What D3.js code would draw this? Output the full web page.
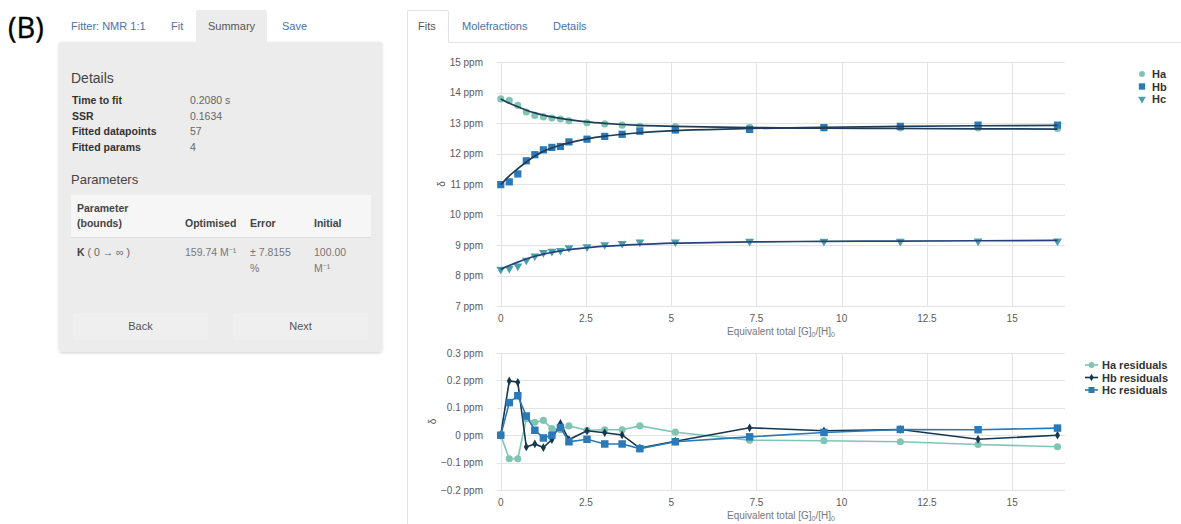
<!DOCTYPE html>
<html>
<head>
<meta charset="utf-8">
<script src="https://cdn.jsdelivr.net/npm/d3@7"></script>
<style>
  html, body { margin: 0; padding: 0; background: #fff; }
  svg { display: block; font-family: "Liberation Sans", Arial, sans-serif; }
</style>
</head>
<body>
<svg id="fig" width="1181" height="524"></svg>
<script>
// Titration points: equivalent total [G]0/[H]0
const eqG = [0, 0.25, 0.5, 0.75, 1.0, 1.25, 1.5, 1.75, 2.0, 2.53, 3.05, 3.56, 4.08, 5.12, 7.3, 9.48, 11.72, 14.0, 16.33];

// Observed shifts (ppm)
const obsHa = [13.79, 13.74, 13.58, 13.36, 13.25, 13.20, 13.16, 13.13, 13.07, 13.01, 12.97, 12.93, 12.89, 12.88, 12.86, 12.84, 12.84, 12.84, 12.82];
const obsHb = [10.98, 11.07, 11.33, 11.76, 11.96, 12.12, 12.20, 12.23, 12.38, 12.47, 12.56, 12.63, 12.73, 12.77, 12.79, 12.85, 12.89, 12.93, 12.93];
const obsHc = [8.20, 8.23, 8.31, 8.50, 8.64, 8.75, 8.79, 8.82, 8.91, 8.94, 9.01, 9.05, 9.10, 9.10, 9.12, 9.12, 9.12, 9.13, 9.13];

// Fitted curves (ppm)
const fitHa = [13.79, 13.65, 13.53, 13.42, 13.33, 13.26, 13.20, 13.15, 13.11, 13.04, 12.99, 12.95, 12.92, 12.89, 12.85, 12.83, 12.82, 12.81, 12.80];
const fitHb = [10.98, 11.27, 11.50, 11.72, 11.92, 12.07, 12.18, 12.27, 12.35, 12.48, 12.57, 12.63, 12.68, 12.75, 12.82, 12.86, 12.89, 12.91, 12.92];
const fitHc = [8.20, 8.33, 8.44, 8.54, 8.63, 8.70, 8.76, 8.81, 8.85, 8.91, 8.96, 8.99, 9.02, 9.06, 9.10, 9.12, 9.13, 9.14, 9.15];

// Residuals (ppm)
const resHa = [0, -0.086, -0.086, 0.06, 0.047, 0.054, 0.024, 0.02, 0.034, 0.018, 0.02, 0.02, 0.034, 0.011, -0.018, -0.02, -0.024, -0.034, -0.042];
const resHb = [0, 0.198, 0.193, -0.043, -0.032, -0.045, -0.016, 0.043, -0.016, 0.016, 0.009, 0.001, -0.047, -0.022, 0.027, 0.016, 0.021, -0.015, 0];
const resHc = [0, 0.119, 0.144, 0.07, 0.018, -0.01, 0, 0.028, -0.024, -0.015, -0.032, -0.032, -0.049, -0.024, -0.006, 0.01, 0.021, 0.02, 0.026];

// Axis ticks
const xTicks = [0, 2.5, 5, 7.5, 10, 12.5, 15];
const xTickLabels = ["0", "2.5", "5", "7.5", "10", "12.5", "15"];
const yTicksFit = [7, 8, 9, 10, 11, 12, 13, 14, 15];
const yTicksRes = [-0.2, -0.1, 0, 0.1, 0.2, 0.3];

// Summary panel text
const detailRows = [["Time to fit", "0.2080 s"], ["SSR", "0.1634"], ["Fitted datapoints", "57"], ["Fitted params", "4"]];
const leftTabs = ["Fitter: NMR 1:1", "Fit", "Summary", "Save"];
const rightTabs = ["Fits", "Molefractions", "Details"];

const svg = d3.select("#fig");
const C = {
  ha: "#80c5b4", hb: "#2b79b6", hc: "#4a9faa",
  fitDark: "#1f3d58", fitNavy: "#26417c",
  resHb: "#173750",
  grid: "#e3e3e3", tick: "#5a5a5a", link: "#4a72a8"
};

const defs = svg.append("defs");
const sh = defs.append("filter").attr("id", "panelShadow").attr("x", "-5%").attr("y", "-5%").attr("width", "110%").attr("height", "115%");
sh.append("feDropShadow").attr("dx", 0).attr("dy", 1).attr("stdDeviation", 1.5).attr("flood-color", "#000").attr("flood-opacity", 0.18);

// ---------- Left: figure letter and summary panel ----------
svg.append("text").attr("x", 8).attr("y", 38).attr("font-family", "'Open Sans', 'DejaVu Sans', sans-serif")
  .attr("font-size", 29).attr("fill", "#000").attr("stroke", "#000").attr("stroke-width", 0.4).text("(B)");

svg.append("rect").attr("x", 59).attr("y", 42).attr("width", 323).attr("height", 310).attr("rx", 3)
  .attr("fill", "#ececec").attr("filter", "url(#panelShadow)");
svg.append("rect").attr("x", 59).attr("y", 42).attr("width", 323).attr("height", 6).attr("fill", "#ececec");
// active tab
svg.append("rect").attr("x", 196).attr("y", 10).attr("width", 71).attr("height", 34).attr("rx", 2).attr("fill", "#ececec");

const ltX = [71, 171, 208, 282];
leftTabs.forEach((t, i) => {
  svg.append("text").attr("x", ltX[i]).attr("y", 30).attr("font-size", 11)
    .attr("fill", i === 2 ? "#555" : C.link).text(t);
});

svg.append("text").attr("x", 71).attr("y", 83).attr("font-size", 14).attr("fill", "#444").text("Details");
detailRows.forEach((r, i) => {
  const y = 104 + i * 15.5;
  svg.append("text").attr("x", 72).attr("y", y).attr("font-size", 10.5).attr("font-weight", "bold").attr("fill", "#333").text(r[0]);
  svg.append("text").attr("x", 190).attr("y", y).attr("font-size", 10.5).attr("fill", "#666").text(r[1]);
});

svg.append("text").attr("x", 71).attr("y", 184).attr("font-size", 13).attr("fill", "#444").text("Parameters");
svg.append("rect").attr("x", 71).attr("y", 195).attr("width", 300).attr("height", 42).attr("fill", "#f6f6f6");
svg.append("line").attr("x1", 71).attr("x2", 371).attr("y1", 237.5).attr("y2", 237.5).attr("stroke", "#dedede");

const hdr = svg.append("g").attr("font-size", 10.5).attr("font-weight", "bold").attr("fill", "#444");
hdr.append("text").attr("x", 77).attr("y", 212).text("Parameter");
hdr.append("text").attr("x", 77).attr("y", 227).text("(bounds)");
hdr.append("text").attr("x", 185).attr("y", 227).text("Optimised");
hdr.append("text").attr("x", 250).attr("y", 227).text("Error");
hdr.append("text").attr("x", 314).attr("y", 227).text("Initial");

const kRow = svg.append("text").attr("x", 77).attr("y", 256).attr("font-size", 10.5).attr("fill", "#666");
kRow.append("tspan").attr("font-weight", "bold").attr("fill", "#444").text("K");
kRow.append("tspan").text(" ( 0 \u2192 \u221e )");
svg.append("text").attr("x", 185).attr("y", 256).attr("font-size", 10.5).attr("fill", "#777").text("159.74 M\u207b\u00b9");
svg.append("text").attr("x", 250).attr("y", 256).attr("font-size", 10.5).attr("fill", "#777").text("\u00b1 7.8155");
svg.append("text").attr("x", 250).attr("y", 272).attr("font-size", 10.5).attr("fill", "#777").text("%");
svg.append("text").attr("x", 314).attr("y", 256).attr("font-size", 10.5).attr("fill", "#777").text("100.00");
svg.append("text").attr("x", 314).attr("y", 272).attr("font-size", 10.5).attr("fill", "#777").text("M\u207b\u00b9");

[[73, 135, "Back"], [233, 135, "Next"]].forEach(b => {
  svg.append("rect").attr("x", b[0]).attr("y", 313).attr("width", b[1]).attr("height", 27).attr("fill", "#efefef");
  svg.append("text").attr("x", b[0] + b[1] / 2).attr("y", 330).attr("text-anchor", "middle")
    .attr("font-size", 11).attr("fill", "#555").text(b[2]);
});

// ---------- Right: tabs ----------
svg.append("path").attr("d", "M407.5,524 V12 Q407.5,10.5 409.5,10.5 H446 Q448.5,10.5 448.5,12 V42.5 H1181")
  .attr("fill", "none").attr("stroke", "#e2e2e2");
const rtX = [418, 462, 553];
rightTabs.forEach((t, i) => {
  svg.append("text").attr("x", rtX[i]).attr("y", 30).attr("font-size", 11)
    .attr("fill", i === 0 ? "#555" : C.link).text(t);
});

// ---------- Shared scales ----------
const x = d3.scaleLinear().domain([-0.11, 16.55]).range([497, 1065]);
const yFit = d3.scaleLinear().domain([7, 15]).range([306, 62]);
const yRes = d3.scaleLinear().domain([-0.2, 0.3]).range([490, 353]);

function frame(yScale, ticks, fmt, top, bottom, deltaX) {
  const g = svg.append("g");
  g.selectAll(".hg").data(ticks).join("line")
    .attr("x1", 497).attr("x2", 1065)
    .attr("y1", d => Math.round(yScale(d)) + 0.5).attr("y2", d => Math.round(yScale(d)) + 0.5)
    .attr("stroke", C.grid);
  g.selectAll(".vg").data(xTicks).join("line")
    .attr("x1", d => Math.round(x(d)) + 0.5).attr("x2", d => Math.round(x(d)) + 0.5)
    .attr("y1", top).attr("y2", bottom).attr("stroke", C.grid);
  g.selectAll(".yl").data(ticks).join("text")
    .attr("x", 483).attr("y", d => yScale(d) + 3.5).attr("text-anchor", "end")
    .attr("font-size", 10).attr("fill", C.tick).text(fmt);
  g.selectAll(".xl").data(xTicks).join("text")
    .attr("x", d => x(d)).attr("y", bottom + 16).attr("text-anchor", "middle")
    .attr("font-size", 10).attr("fill", C.tick).text((d, i) => xTickLabels[i]);
  const title = g.append("text").attr("x", 781).attr("y", bottom + 29).attr("text-anchor", "middle")
    .attr("font-size", 10).attr("fill", "#777");
  title.append("tspan").text("Equivalent total [G]");
  title.append("tspan").attr("font-size", 7).attr("dy", 2).text("0");
  title.append("tspan").attr("dy", -2).text("/[H]");
  title.append("tspan").attr("font-size", 7).attr("dy", 2).text("0");
  g.append("text").attr("transform", `translate(${deltaX},${(top + bottom) / 2}) rotate(-90)`)
    .attr("text-anchor", "middle").attr("font-size", 10).attr("fill", C.tick).text("\u03b4");
}

frame(yFit, yTicksFit, d => d + " ppm", 62, 306, 445);
frame(yRes, yTicksRes, d => d3.format(".1~f")(d) + " ppm", 353, 490, 436);

// ---------- Fit panel ----------
const sym = (type, size) => d3.symbol().type(type).size(size)();
const series = [
  { obs: obsHa, fit: fitHa, color: C.ha, line: C.fitDark, shape: sym(d3.symbolCircle, 40), rot: 0 },
  { obs: obsHb, fit: fitHb, color: C.hb, line: C.fitDark, shape: sym(d3.symbolSquare, 52), rot: 0 },
  { obs: obsHc, fit: fitHc, color: C.hc, line: C.fitNavy, shape: sym(d3.symbolTriangle, 34), rot: 180 }
];
const fitLine = d3.line().x((d, i) => x(eqG[i])).y(d => yFit(d)).curve(d3.curveMonotoneX);
series.forEach(s => {
  svg.append("g").selectAll("path").data(s.obs).join("path")
    .attr("d", s.shape).attr("fill", s.color)
    .attr("transform", (d, i) => `translate(${x(eqG[i])},${yFit(d)}) rotate(${s.rot})`);
});
series.forEach(s => {
  svg.append("path").datum(s.fit).attr("d", fitLine)
    .attr("fill", "none").attr("stroke", s.line).attr("stroke-width", 1.7);
});

const legTop = [["Ha", C.ha, sym(d3.symbolCircle, 28), 0], ["Hb", C.hb, sym(d3.symbolSquare, 40), 0], ["Hc", C.hc, sym(d3.symbolTriangle, 26), 180]];
legTop.forEach((l, i) => {
  const y = 74 + i * 12.5;
  svg.append("path").attr("d", l[2]).attr("fill", l[1]).attr("transform", `translate(1142,${y}) rotate(${l[3]})`);
  svg.append("text").attr("x", 1152).attr("y", y + 4).attr("font-size", 11).attr("font-weight", "bold").attr("fill", "#333").text(l[0]);
});

// ---------- Residual panel ----------
const resLine = d3.line().x((d, i) => x(eqG[i])).y(d => yRes(d));
const resSeries = [
  { data: resHa, color: C.ha, shape: sym(d3.symbolCircle, 40), name: "Ha residuals", lshape: sym(d3.symbolCircle, 26) },
  { data: resHb, color: C.resHb, shape: sym(d3.symbolDiamond, 22), name: "Hb residuals", lshape: sym(d3.symbolDiamond, 16) },
  { data: resHc, color: C.hb, shape: sym(d3.symbolSquare, 56), name: "Hc residuals", lshape: sym(d3.symbolSquare, 36) }
];
resSeries.forEach(s => {
  svg.append("path").datum(s.data).attr("d", resLine).attr("fill", "none")
    .attr("stroke", s.color).attr("stroke-width", 1.6);
  svg.append("g").selectAll("path").data(s.data).join("path")
    .attr("d", s.shape).attr("fill", s.color)
    .attr("transform", (d, i) => `translate(${x(eqG[i])},${yRes(d)})`);
});
resSeries.forEach((s, i) => {
  const y = 365 + i * 12.5;
  svg.append("line").attr("x1", 1085).attr("x2", 1098).attr("y1", y).attr("y2", y).attr("stroke", s.color).attr("stroke-width", 1.6);
  svg.append("path").attr("d", s.lshape).attr("fill", s.color).attr("transform", `translate(1091.5,${y})`);
  svg.append("text").attr("x", 1102).attr("y", y + 4).attr("font-size", 11).attr("font-weight", "bold").attr("fill", "#333").text(s.name);
});
</script>
</body>
</html>
